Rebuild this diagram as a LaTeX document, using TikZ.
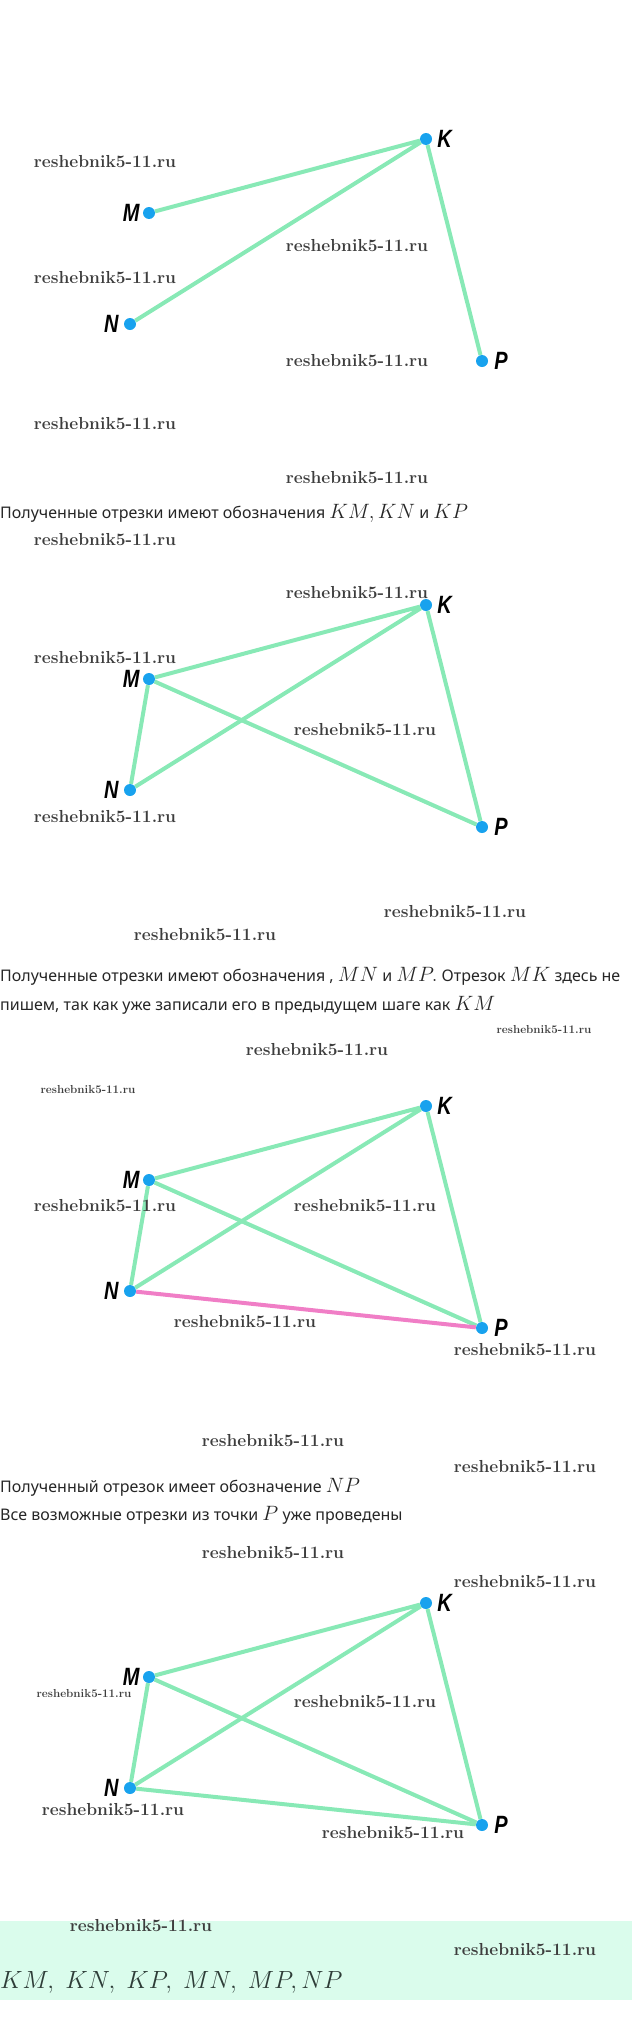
\documentclass[tikz,border=0pt]{standalone}
\usepackage{fontspec}
\usepackage{amsmath}
\usetikzlibrary{positioning}
\newfontfamily\rufont{Noto Sans}
\newfontfamily\ptfont{Liberation Sans}
\definecolor{segc}{HTML}{88E9B6}
\definecolor{npc}{HTML}{F07EC6}
\definecolor{dotc}{HTML}{18A2EE}
\definecolor{bandc}{HTML}{DAFCEC}
\definecolor{txtc}{HTML}{262626}
\definecolor{ansc}{HTML}{2E3D38}
\newcommand{\mth}[1]{{\fontsize{19.5}{22}\selectfont$#1$}}

\begin{document}
\begin{tikzpicture}[x=1pt, y=-1pt,
                   pt/.style={circle, fill=dotc, inner sep=0pt, minimum size=12pt},
                   lbl/.style={inner sep=0pt, font=\ptfont\bfseries\itshape\fontsize{25}{25}\selectfont},
                   seg/.style={draw=segc, line width=4pt},
                   wm/.style={text=black!76, inner sep=0pt,
                              font=\bfseries\fontsize{#1}{#1}\selectfont\addfontfeature{FakeBold=1.2}},
                   txt/.style={anchor=west, inner sep=0pt, text=txtc, font=\rufont\fontsize{16}{18}\selectfont}]
  \useasboundingbox (0,0) rectangle (632,2034);
  \fill[bandc] (0,1921) rectangle (632,2000);

  % the four points, once per drawing
  \foreach \i/\dy in {1/0,2/466,3/967,4/1464}{
    \node[pt] (K\i) at (426,{139+\dy}) {};
    \node[pt] (M\i) at (149,{213+\dy}) {};
    \node[pt] (N\i) at (130,{324+\dy}) {};
    \node[pt] (P\i) at (482,{361+\dy}) {};
    \node[lbl, right=5pt of K\i] (lK\i) {\scalebox{0.8}[1]{K}};
    \node[lbl, left=3pt of M\i] (lM\i) {\scalebox{0.8}[1]{M}};
    \node[lbl, left=5pt of N\i] (lN\i) {\scalebox{0.8}[1]{N}};
    \node[lbl, right=6pt of P\i] (lP\i) {\scalebox{0.8}[1]{P}};
  }

  \foreach \i in {1,...,4}
    \draw[seg] (K\i) -- (M\i) (K\i) -- (N\i) (K\i) -- (P\i);
  \foreach \i in {2,3,4}
    \draw[seg] (M\i) -- (N\i) (M\i) -- (P\i);
  \draw[seg, draw=npc] (N3) -- (P3);
  \draw[seg] (N4) -- (P4);

  \node[txt] (t1) at (0,513) {Полученные отрезки имеют обозначения \mth{KM, KN} и \mth{KP}};
  \node[txt] (t2) at (0,976) {Полученные отрезки имеют обозначения , \mth{MN} и \mth{MP.} Отрезок \mth{MK} здесь не};
  \node[txt] (t3) at (0,1005) {пишем, так как уже записали его в предыдущем шаге как \mth{KM}};
  \node[txt] (t4) at (0,1487) {Полученный отрезок имеет обозначение \mth{NP}};
  \node[txt] (t5) at (0,1515) {Все возможные отрезки из точки \mth{P} уже проведены};
  \node[anchor=west, inner sep=0pt, text=ansc, font=\fontsize{23}{25}\selectfont] (ans) at (0,1982)
    {$KM,\ KN,\ KP,\ MN,\ MP, NP$};

  % watermarks
  \foreach \x/\y/\s [count=\n] in {105/162/17.4, 357/246/17.4, 105/278/17.4, 357/361/17.4,
      105/424/17.4, 357/478/17.4, 105/540/17.4, 357/593/17.4, 105/658/17.4, 365/730/17.4,
      105/817/17.4, 455/912/17.4, 205/935/17.4, 544/1030/11.6, 317/1050/17.4, 88/1090/11.6,
      105/1206/17.4, 365/1206/17.4, 245/1322/17.4, 525/1350/17.4, 273/1441/17.4, 525/1467/17.4,
      273/1553/17.4, 525/1582/17.4, 84/1694/11.6, 365/1702/17.4, 113/1810/17.4, 393/1833/17.4,
      141/1926/17.4, 525/1950/17.4}
    \node[wm=\s] (w\n) at (\x,\y) {reshebnik5-11.ru};
\end{tikzpicture}
\end{document}
